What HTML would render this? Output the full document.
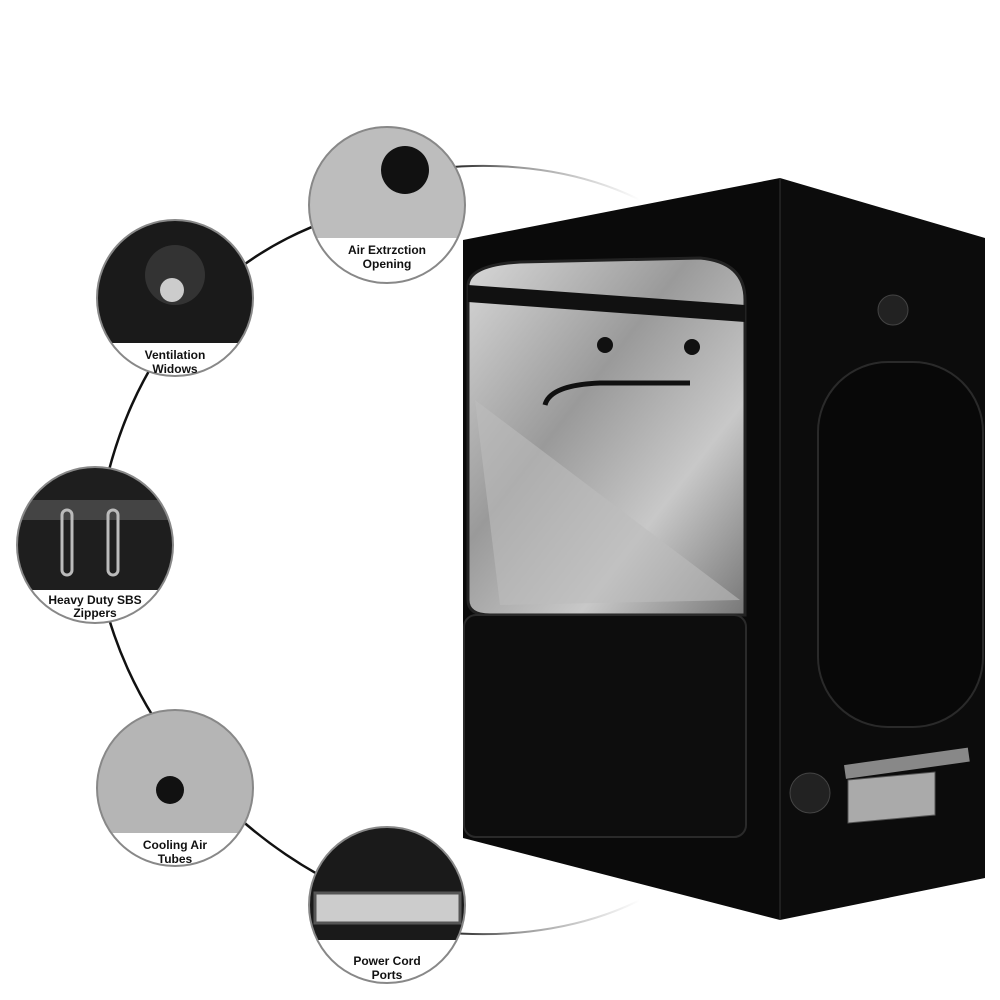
<!DOCTYPE html>
<html><head><meta charset="utf-8"><style>
html,body{margin:0;padding:0;background:#fff;}
svg{display:block;}
text{font-family:"Liberation Sans",Arial,sans-serif;font-weight:bold;font-size:12px;fill:#111;text-anchor:middle;}
</style></head><body>
<svg width="1000" height="1000" viewBox="0 0 1000 1000">
<defs>
<linearGradient id="silver" x1="0" y1="0" x2="1" y2="1">
<stop offset="0" stop-color="#d8d8d8"/><stop offset="0.4" stop-color="#9a9a9a"/><stop offset="0.7" stop-color="#c8c8c8"/><stop offset="1" stop-color="#777"/></linearGradient>
<linearGradient id="fadeT" x1="0" y1="0" x2="1" y2="0"><stop offset="0" stop-color="#111"/><stop offset="0.4" stop-color="#999"/><stop offset="1" stop-color="#fff"/></linearGradient>
<clipPath id="c1"><circle cx="387" cy="205" r="78"/></clipPath>
<clipPath id="c2"><circle cx="175" cy="298" r="78"/></clipPath>
<clipPath id="c3"><circle cx="95" cy="545" r="78"/></clipPath>
<clipPath id="c4"><circle cx="175" cy="788" r="78"/></clipPath>
<clipPath id="c5"><circle cx="387" cy="905" r="78"/></clipPath>
</defs>
<!-- connecting arc -->
<path d="M387,205 C250,230 120,330 95,545 C110,720 250,860 387,905" fill="none" stroke="#111" stroke-width="2.5"/>
<path d="M440,168 C520,160 590,175 640,200" fill="none" stroke="url(#fadeT)" stroke-width="2"/>
<path d="M440,932 C520,940 590,925 640,900" fill="none" stroke="url(#fadeT)" stroke-width="2"/>

<!-- tent right side -->
<polygon points="780,178 985,238 985,878 780,920" fill="#0c0c0c"/>
<rect x="818" y="362" width="165" height="365" rx="70" fill="#080808" stroke="#2a2a2a" stroke-width="2"/>
<circle cx="893" cy="310" r="15" fill="#222" stroke="#444"/>
<circle cx="810" cy="793" r="20" fill="#222" stroke="#444"/>
<polygon points="848,780 935,772 935,815 848,823" fill="#aaa" stroke="#555"/>
<rect x="845" y="765" width="125" height="14" fill="#888" transform="rotate(-8 845 772)"/>
<!-- tent front -->
<polygon points="463,240 780,178 780,920 463,838" fill="#0a0a0a"/>
<line x1="780" y1="178" x2="780" y2="920" stroke="#333"/>
<path d="M468,285 L468,600 Q468,615 490,615 L745,615 L745,300 Q745,262 700,258 L520,262 Q470,265 468,285Z" fill="url(#silver)" stroke="#222" stroke-width="3"/>
<polygon points="468,285 745,305 745,322 468,302" fill="#111"/>
<path d="M545,405 Q550,385 600,383 L690,383" fill="none" stroke="#111" stroke-width="5"/>
<circle cx="605" cy="345" r="8" fill="#111"/><circle cx="692" cy="347" r="8" fill="#111"/>
<path d="M475,400 L740,600 L500,605Z" fill="#bcbcbc" opacity="0.6"/>
<rect x="464" y="615" width="282" height="222" rx="12" fill="#0d0d0d" stroke="#2a2a2a" stroke-width="2"/>

<!-- circles -->
<g clip-path="url(#c1)"><rect x="300" y="120" width="180" height="170" fill="#bdbdbd"/><circle cx="405" cy="170" r="24" fill="#111"/><rect x="300" y="238" width="180" height="60" fill="#fff"/></g>
<circle cx="387" cy="205" r="78" fill="none" stroke="#888" stroke-width="2"/>
<text x="387" y="254">Air Extrzction</text><text x="387" y="268">Opening</text>

<g clip-path="url(#c2)"><rect x="90" y="210" width="180" height="180" fill="#1a1a1a"/><circle cx="175" cy="275" r="30" fill="#333"/><circle cx="172" cy="290" r="12" fill="#ccc"/><rect x="90" y="343" width="180" height="60" fill="#fff"/></g>
<circle cx="175" cy="298" r="78" fill="none" stroke="#888" stroke-width="2"/>
<text x="175" y="359">Ventilation</text><text x="175" y="373">Widows</text>

<g clip-path="url(#c3)"><rect x="10" y="460" width="180" height="180" fill="#1e1e1e"/><rect x="10" y="500" width="180" height="20" fill="#444"/><rect x="62" y="510" width="10" height="65" rx="5" fill="none" stroke="#bbb" stroke-width="3"/><rect x="108" y="510" width="10" height="65" rx="5" fill="none" stroke="#bbb" stroke-width="3"/><rect x="10" y="590" width="180" height="60" fill="#fff"/></g>
<circle cx="95" cy="545" r="78" fill="none" stroke="#888" stroke-width="2"/>
<text x="95" y="604">Heavy Duty SBS</text><text x="95" y="617">Zippers</text>

<g clip-path="url(#c4)"><rect x="90" y="700" width="180" height="180" fill="#b5b5b5"/><circle cx="170" cy="790" r="14" fill="#111"/><rect x="90" y="833" width="180" height="60" fill="#fff"/></g>
<circle cx="175" cy="788" r="78" fill="none" stroke="#888" stroke-width="2"/>
<text x="175" y="849">Cooling Air</text><text x="175" y="863">Tubes</text>

<g clip-path="url(#c5)"><rect x="300" y="820" width="180" height="180" fill="#1a1a1a"/><rect x="315" y="893" width="145" height="30" fill="#ccc" stroke="#555" stroke-width="3"/><rect x="300" y="940" width="180" height="60" fill="#fff"/></g>
<circle cx="387" cy="905" r="78" fill="none" stroke="#888" stroke-width="2"/>
<text x="387" y="965">Power Cord</text><text x="387" y="979">Ports</text>
</svg>
</body></html>
